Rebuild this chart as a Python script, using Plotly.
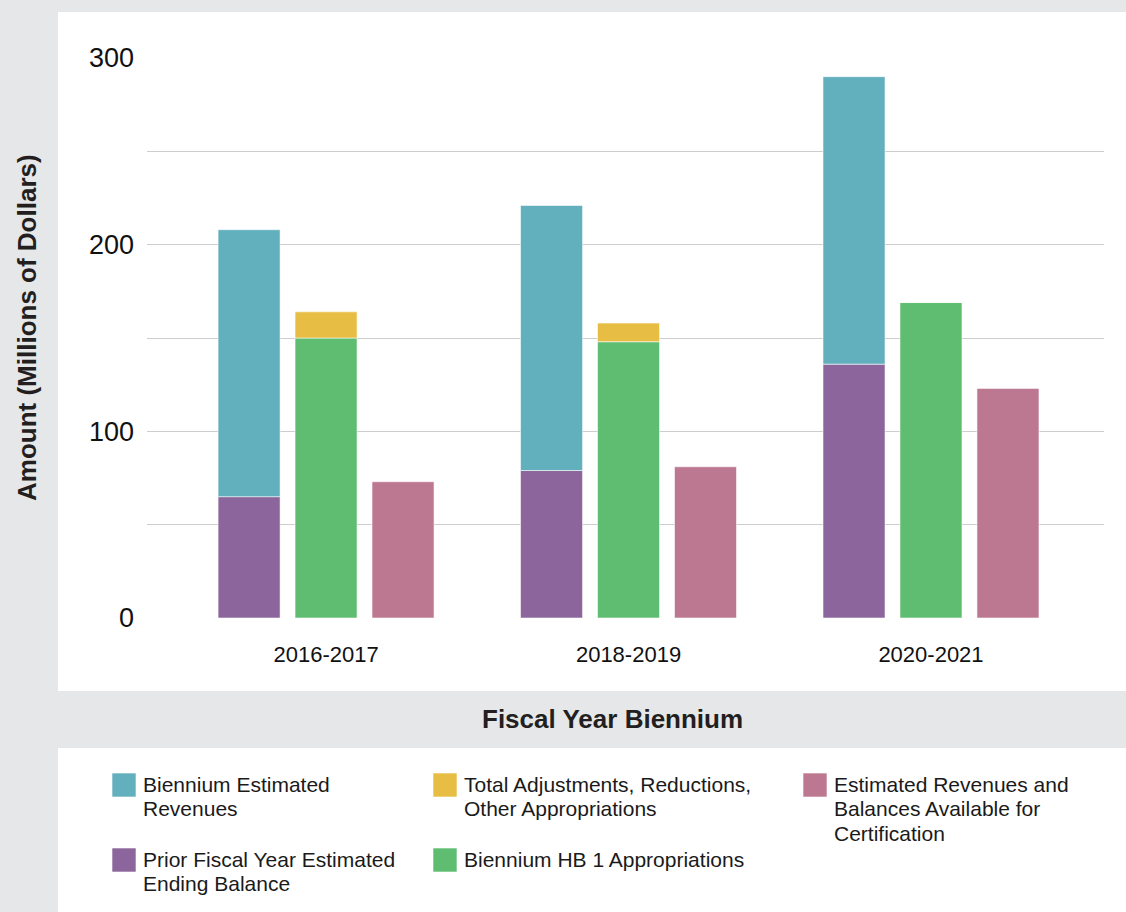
import plotly.graph_objects as go

# ---------------- data ----------------
bienniums = ["2016-2017", "2018-2019", "2020-2021"]
prior_balance = [65, 79, 136]          # Prior Fiscal Year Estimated Ending Balance
biennium_revenues = [143, 142, 154]    # Biennium Estimated Revenues (stacked on prior balance)
hb1_appropriations = [150, 148, 169]   # Biennium HB 1 Appropriations
adjustments = [14, 10, 0]              # Total Adjustments, Reductions, Other Appropriations
available = [73, 81, 123]              # Estimated Revenues and Balances Available for Certification

y_tickvals = [0, 50, 100, 150, 200, 250, 300]
y_ticktext = ["0", "", "100", "", "200", "", "300"]

series_names = {
    "rev": ["Biennium Estimated", "Revenues"],
    "adj": ["Total Adjustments, Reductions,", "Other Appropriations"],
    "avail": ["Estimated Revenues and", "Balances Available for", "Certification"],
    "prior": ["Prior Fiscal Year Estimated", "Ending Balance"],
    "hb1": ["Biennium HB 1 Appropriations"],
}
colors = {
    "rev": "#62afbd",
    "adj": "#e8bd44",
    "avail": "#bd7891",
    "prior": "#8b659b",
    "hb1": "#5fbd72",
}

# ---------------- figure ----------------
W, H = 1126, 912
L, R, T, B = 147, 22, 58, 294
pw, ph = W - L - R, H - T - B

def px(x):
    return (x - L) / pw

def py(y):
    return (H - B - y) / ph

bw = 0.205
off = 0.2545
edge = dict(color="rgba(255,255,255,0.55)", width=1)

fig = go.Figure()
x_idx = list(range(len(bienniums)))

fig.add_trace(go.Bar(x=x_idx, y=prior_balance, width=bw, offset=-off - bw / 2,
                     marker=dict(color=colors["prior"], line=edge), showlegend=False))
fig.add_trace(go.Bar(x=x_idx, y=biennium_revenues, base=prior_balance, width=bw, offset=-off - bw / 2,
                     marker=dict(color=colors["rev"], line=edge), showlegend=False))
fig.add_trace(go.Bar(x=x_idx, y=hb1_appropriations, width=bw, offset=-bw / 2,
                     marker=dict(color=colors["hb1"], line=edge), showlegend=False))
fig.add_trace(go.Bar(x=x_idx, y=adjustments, base=hb1_appropriations, width=bw, offset=-bw / 2,
                     marker=dict(color=colors["adj"], line=edge), showlegend=False))
fig.add_trace(go.Bar(x=x_idx, y=available, width=bw, offset=off - bw / 2,
                     marker=dict(color=colors["avail"], line=edge), showlegend=False))

tick_font = "Liberation Sans, Arial, Helvetica, sans-serif"
title_font = "Liberation Sans, Arial, Helvetica, sans-serif"

shapes = []
annotations = []
# white panels on gray background
shapes.append(dict(type="rect", xref="paper", yref="paper", layer="below",
                   x0=px(58), x1=px(1126 + 5), y0=py(691), y1=py(12),
                   fillcolor="white", line=dict(width=0)))
shapes.append(dict(type="rect", xref="paper", yref="paper", layer="below",
                   x0=px(58), x1=px(1126 + 5), y0=py(912 + 5), y1=py(748),
                   fillcolor="white", line=dict(width=0)))

# manual legend
legend_items = [
    ("rev", 112, 773), ("adj", 433, 773), ("avail", 803, 773),
    ("prior", 112, 848), ("hb1", 433, 848),
]
line_gap = 24.5
for key, lx, ly in legend_items:
    shapes.append(dict(type="rect", xref="paper", yref="paper",
                       x0=px(lx), x1=px(lx + 24), y0=py(ly + 24), y1=py(ly),
                       fillcolor=colors[key], line=dict(color="rgba(255,255,255,0.6)", width=1)))
    for i, line in enumerate(series_names[key]):
        baseline = ly + 20 + i * line_gap
        annotations.append(dict(xref="paper", yref="paper", x=px(lx + 29), y=py(baseline - 9),
                                xanchor="left", yanchor="middle", align="left", showarrow=False,
                                text=line,
                                font=dict(family=tick_font, size=21, color="#1a1a1a")))

annotations.append(dict(xref="paper", yref="paper", x=px(612), y=py(719),
                        xanchor="center", yanchor="middle", showarrow=False,
                        text="<b>Fiscal Year Biennium</b>",
                        font=dict(family=title_font, size=26, color="#231f20")))
annotations.append(dict(xref="paper", yref="paper", x=px(27), y=py(328),
                        xanchor="center", yanchor="middle", showarrow=False, textangle=-90,
                        text="<b>Amount (Millions of Dollars)</b>",
                        font=dict(family=title_font, size=26, color="#231f20")))

fig.update_layout(
    width=W, height=H,
    margin=dict(l=L, r=R, t=T, b=B, pad=0),
    paper_bgcolor="#e6e7e9",
    plot_bgcolor="white",
    barmode="overlay",
    showlegend=False,
    shapes=shapes,
    annotations=annotations,
    xaxis=dict(
        tickmode="array", tickvals=x_idx, ticktext=bienniums,
        range=[-0.592, 2.572], showgrid=False, zeroline=False, showline=False,
        ticks="", ticklabelstandoff=21,
        tickfont=dict(family=tick_font, size=22, color="#111"),
    ),
    yaxis=dict(
        range=[0, 300], tickmode="array", tickvals=y_tickvals, ticktext=y_ticktext,
        showgrid=True, gridcolor="#cdcdcd", gridwidth=1, zeroline=False, showline=False,
        ticks="", ticklabelstandoff=12,
        tickfont=dict(family=tick_font, size=27, color="#111"),
    ),
)

fig.write_html("out.html")
